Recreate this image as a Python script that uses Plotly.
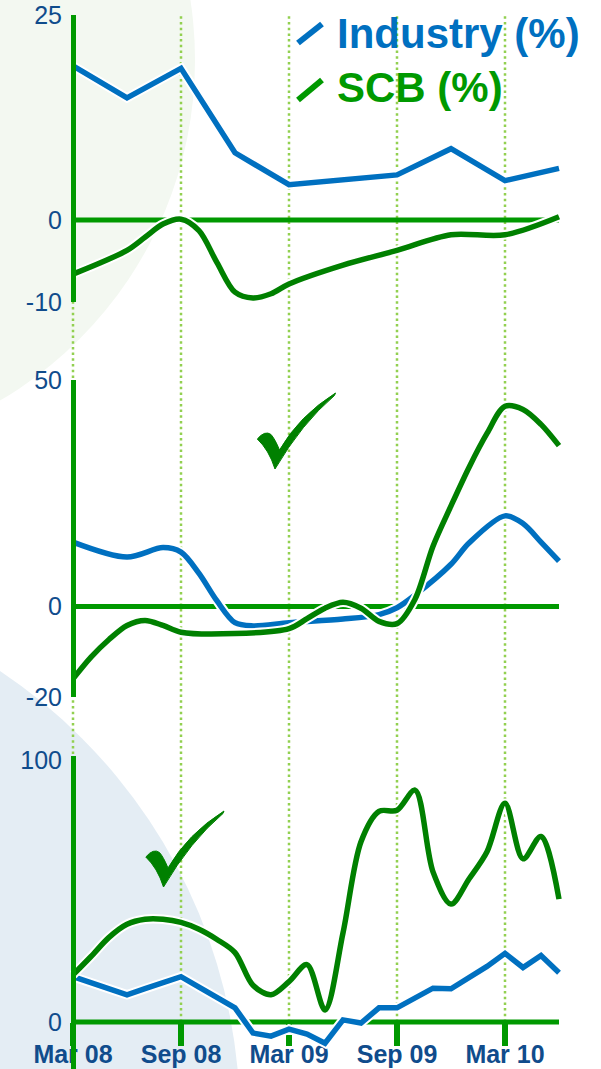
import plotly.graph_objects as go

# ---------------------------------------------------------------- data
# month index: 0 = Mar 08, 6 = Sep 08, 12 = Mar 09, 18 = Sep 09, 24 = Mar 10
tick_months = [0, 6, 12, 18, 24]
tick_labels = ["Mar 08", "Sep 08", "Mar 09", "Sep 09", "Mar 10"]
series_names = ["Industry (%)", "SCB (%)"]

# panel 1
p1_industry_m = [0, 3, 6, 9, 12, 18, 21, 24, 27]
p1_industry = [18.8, 14.9, 18.5, 8.2, 4.3, 5.5, 8.7, 4.8, 6.3]
p1_scb_m = [0, 3, 4, 5, 6, 7, 8, 9, 10, 11, 12, 15, 18, 21, 24, 27]
p1_scb = [-6.6, -3.7, -2.1, -0.5, 0.1, -1.3, -5.2, -8.8, -9.5, -9.0, -7.8,
          -5.5, -3.7, -1.8, -1.8, 0.4]
p1_ticks = [-10, 0, 25]
p1_range = [-10, 25]

# panel 2
p2_industry_m = [0, 3, 5, 6, 7, 8, 9, 10, 12, 15, 17, 18, 19, 21, 22, 24, 25, 26, 27]
p2_industry = [14.2, 10.9, 13.0, 12.0, 7.3, 1.2, -3.6, -4.3, -3.6, -2.8, -1.8,
               -0.3, 2.5, 9.3, 14.0, 20.0, 18.3, 14.2, 10.0]
p2_scb_m = [0, 1, 2, 3, 4, 5, 6, 9, 12, 13, 14, 15, 16, 17, 18, 19, 20, 21,
            22, 23, 24, 25, 26, 27]
p2_scb = [-16.0, -11.2, -7.3, -4.2, -3.1, -4.2, -5.7, -6.0, -4.9, -2.7, -0.4,
          0.9, -0.4, -3.3, -3.8, 1.6, 13.3, 22.2, 30.7, 38.2, 44.2, 43.5,
          40.2, 35.5]
p2_ticks = [-20, 0, 50]
p2_range = [-20, 50]

# panel 3
p3_industry_m = list(range(0, 28))
p3_industry = [17.3, 15.0, 12.7, 10.4, 12.7, 15.0, 17.3, 13.3, 9.3, 5.4,
               -4.2, -5.4, -2.7, -4.6, -8.1, 0.8, -0.4, 5.4, 5.4, 9.2, 12.9,
               12.7, 16.9, 21.2, 26.2, 20.8, 25.4, 18.8]
p3_scb_m = list(range(0, 28))
p3_scb = [18.0, 25.0, 32.3, 37.3, 39.2, 39.2, 38.0, 35.4, 31.5, 26.5, 14.0,
          10.4, 15.4, 21.9, 4.6, 34.0, 68.8, 80.4, 80.8, 88.5, 57.3, 45.0,
          54.6, 65.0, 83.5, 62.3, 70.8, 46.9]
p3_ticks = [0, 100]

# ---------------------------------------------------------------- style
W, H = 601, 1069
BLUE = "#0070C0"
GREEN = "#008000"
AXIS_GREEN = "#009900"
GRID_GREEN = "#92D050"
LABEL_BLUE = "#104C8C"
FONT = "Liberation Sans"

X0_PX = 73.0        # pixel column of Mar 08
PX_PER_MONTH = 18.0


def fx(px):
    return px / W


def fy(py):
    return 1 - py / H


x_range = [-X0_PX / PX_PER_MONTH, (W - X0_PX) / PX_PER_MONTH]

# panel frames in pixels (top, bottom) and the y value range they hold
p3_zero_px, p3_px_per_unit = 1022.0, 2.62
p3_range = [-(H - p3_zero_px) / p3_px_per_unit, (p3_zero_px - 756) / p3_px_per_unit]
panels = [
    dict(ax="y", top=15, bottom=302, rng=p1_range, ticks=p1_ticks,
         ind=(p1_industry_m, p1_industry, "linear"), scb=(p1_scb_m, p1_scb)),
    dict(ax="y2", top=380, bottom=697, rng=p2_range, ticks=p2_ticks,
         ind=(p2_industry_m, p2_industry, "spline"), scb=(p2_scb_m, p2_scb)),
    dict(ax="y3", top=756, bottom=H, rng=p3_range, ticks=p3_ticks,
         ind=(p3_industry_m, p3_industry, "linear"), scb=(p3_scb_m, p3_scb)),
]

fig = go.Figure()


def add_line(xs, ys, color, shape, yax):
    # white halo underneath, then the coloured line
    for c, w in (("white", 9.5), (color, 5.5)):
        fig.add_trace(go.Scatter(
            x=xs, y=ys, mode="lines", yaxis=yax, showlegend=False,
            hoverinfo="skip",
            line=dict(color=c, width=w, shape=shape, smoothing=0.9),
            cliponaxis=False,
        ))


for p in panels:
    im, iv, ishape = p["ind"]
    sm, sv = p["scb"]
    add_line(im, iv, BLUE, ishape, p["ax"])
    add_line(sm, sv, GREEN, "spline", p["ax"])


# ---------------------------------------------------------------- shapes
def tick_mark_path(bx, by):
    """Outline of a hand-drawn tick, anchored at its bottom point (pixels)."""
    def pt(dx, dy):
        return f"{fx(bx + dx):.5f},{fy(by + dy):.5f}"
    return ("M" + pt(-17.7, -30)
            + " Q" + pt(-10, -39) + " " + pt(-4, -34.5)
            + " Q" + pt(0, -30) + " " + pt(4.5, -19)
            + " Q" + pt(24, -53) + " " + pt(60.5, -76)
            + " L" + pt(59.5, -73.5)
            + " Q" + pt(27, -46) + " " + pt(0, 0)
            + " Q" + pt(-6, -19) + " " + pt(-17.7, -30) + " Z")


shapes = [
    # soft slide background
    dict(type="circle", xref="paper", yref="paper", layer="below",
         x0=fx(-200 - 395), x1=fx(-200 + 395), y0=fy(60 + 395), y1=fy(60 - 395),
         fillcolor="#F3F8F1", line=dict(width=0)),
    dict(type="circle", xref="paper", yref="paper", layer="below",
         x0=fx(-300 - 540), x1=fx(-300 + 540), y0=fy(1120 + 540), y1=fy(1120 - 540),
         fillcolor="#E4EDF4", line=dict(width=0)),
]
for m in tick_months:
    shapes.append(dict(type="line", xref="x", yref="paper", layer="below",
                       x0=m, x1=m, y0=fy(p3_zero_px), y1=fy(15),
                       line=dict(color=GRID_GREEN, width=2.5, dash="2.5px,3.2px")))
for p in panels:
    shapes.append(dict(type="line", xref="x", yref=p["ax"], layer="below",
                       x0=p["ind"][0][0], x1=p["ind"][0][-1], y0=0, y1=0,
                       line=dict(color=AXIS_GREEN, width=5)))
# legend strokes
shapes.append(dict(type="line", xref="paper", yref="paper",
                   x0=fx(298), y0=fy(43), x1=fx(322), y1=fy(24),
                   line=dict(color=BLUE, width=6)))
shapes.append(dict(type="line", xref="paper", yref="paper",
                   x0=fx(298), y0=fy(100), x1=fx(322), y1=fy(80),
                   line=dict(color=AXIS_GREEN, width=6)))
# tick marks on the two lower panels
for bx, by in ((275, 469), (163.5, 887)):
    shapes.append(dict(type="path", xref="paper", yref="paper",
                       path=tick_mark_path(bx, by), fillcolor=GREEN,
                       line=dict(color=GREEN, width=1)))

annotations = [
    dict(text=series_names[0], xref="paper", yref="paper", x=fx(335), y=fy(33),
         xanchor="left", yanchor="middle", showarrow=False,
         font=dict(family=FONT, size=42, color=BLUE, weight="bold")),
    dict(text=series_names[1], xref="paper", yref="paper", x=fx(335), y=fy(88),
         xanchor="left", yanchor="middle", showarrow=False,
         font=dict(family=FONT, size=42, color=AXIS_GREEN, weight="bold")),
]

# ---------------------------------------------------------------- axes
layout_axes = {}
for i, p in enumerate(panels):
    key = "yaxis" if i == 0 else f"yaxis{i + 1}"
    layout_axes[key] = dict(
        domain=[fy(p["bottom"]), fy(p["top"])], range=p["rng"],
        anchor="free", position=fx(X0_PX), automargin=False,
        showline=True, linecolor=AXIS_GREEN, linewidth=5,
        showgrid=False, zeroline=False, ticks="",
        tickvals=p["ticks"], ticktext=[str(v) for v in p["ticks"]],
        ticklabelstandoff=4,
        tickfont=dict(family=FONT, size=25, color=LABEL_BLUE),
        fixedrange=True,
    )

fig.update_layout(
    width=W, height=H,
    margin=dict(l=0, r=0, t=0, b=0, pad=0, autoexpand=False),
    paper_bgcolor="white", plot_bgcolor="rgba(0,0,0,0)",
    showlegend=False,
    xaxis=dict(
        domain=[0, 1], range=x_range, anchor="free", position=fy(p3_zero_px),
        automargin=False,
        showline=False, showgrid=False, zeroline=False,
        tickvals=tick_months, ticktext=tick_labels,
        ticks="outside", ticklen=23, tickwidth=6, tickcolor=AXIS_GREEN,
        ticklabelstandoff=-13,
        tickfont=dict(family=FONT, size=25, color=LABEL_BLUE, weight="bold"),
        fixedrange=True,
    ),
    shapes=shapes,
    annotations=annotations,
    **layout_axes,
)

fig.write_html("out.html")
